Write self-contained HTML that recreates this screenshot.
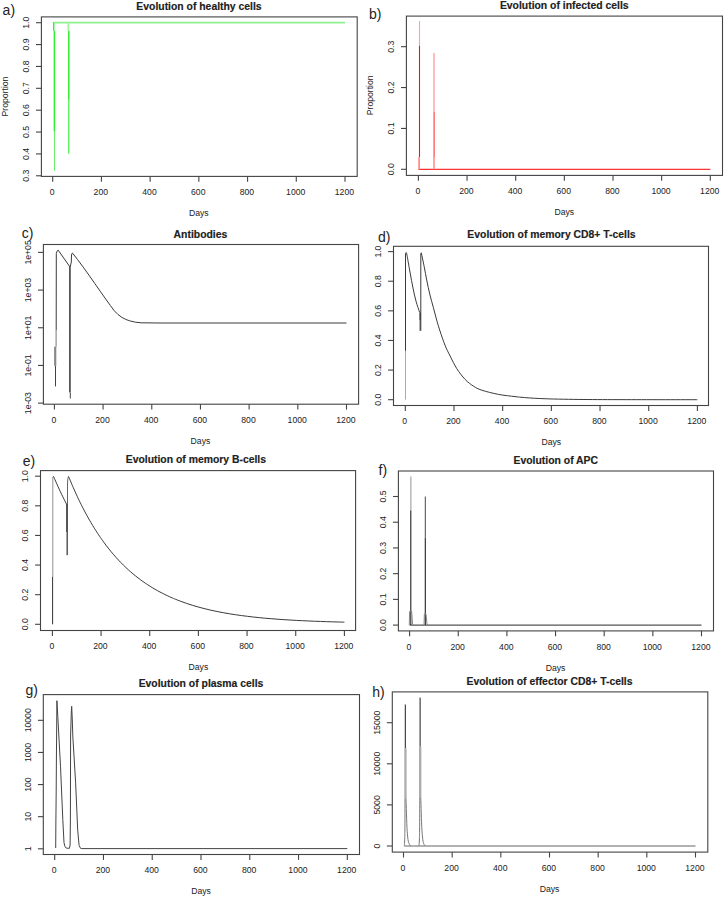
<!DOCTYPE html><html><head><meta charset="utf-8"><style>html,body{margin:0;padding:0;background:#fff;}svg{display:block;}text{font-family:"Liberation Sans", sans-serif;fill:#222;}</style></head><body>
<svg width="724" height="898" viewBox="0 0 724 898">
<rect width="724" height="898" fill="#fff"/>
<rect x="41.4" y="16.9" width="315.8" height="159.5" fill="none" stroke="#444" stroke-width="1.1"/>
<line x1="52.7" y1="176.4" x2="52.7" y2="181.8" stroke="#444" stroke-width="1.1"/>
<text transform="translate(52.1 195) scale(1 1.1)" font-size="8.65" text-anchor="middle">0</text>
<line x1="101.42" y1="176.4" x2="101.42" y2="181.8" stroke="#444" stroke-width="1.1"/>
<text transform="translate(100.82 195) scale(1 1.1)" font-size="8.65" text-anchor="middle">200</text>
<line x1="150.13" y1="176.4" x2="150.13" y2="181.8" stroke="#444" stroke-width="1.1"/>
<text transform="translate(149.53 195) scale(1 1.1)" font-size="8.65" text-anchor="middle">400</text>
<line x1="198.85" y1="176.4" x2="198.85" y2="181.8" stroke="#444" stroke-width="1.1"/>
<text transform="translate(198.25 195) scale(1 1.1)" font-size="8.65" text-anchor="middle">600</text>
<line x1="247.57" y1="176.4" x2="247.57" y2="181.8" stroke="#444" stroke-width="1.1"/>
<text transform="translate(246.97 195) scale(1 1.1)" font-size="8.65" text-anchor="middle">800</text>
<line x1="296.28" y1="176.4" x2="296.28" y2="181.8" stroke="#444" stroke-width="1.1"/>
<text transform="translate(295.68 195) scale(1 1.1)" font-size="8.65" text-anchor="middle">1000</text>
<line x1="345" y1="176.4" x2="345" y2="181.8" stroke="#444" stroke-width="1.1"/>
<text transform="translate(344.4 195) scale(1 1.1)" font-size="8.65" text-anchor="middle">1200</text>
<line x1="36" y1="175.79" x2="41.4" y2="175.79" stroke="#444" stroke-width="1.1"/>
<text transform="translate(29.2 175.79) rotate(-90) scale(1 1.1)" font-size="8.65" text-anchor="middle">0.3</text>
<line x1="36" y1="153.92" x2="41.4" y2="153.92" stroke="#444" stroke-width="1.1"/>
<text transform="translate(29.2 153.92) rotate(-90) scale(1 1.1)" font-size="8.65" text-anchor="middle">0.4</text>
<line x1="36" y1="132.05" x2="41.4" y2="132.05" stroke="#444" stroke-width="1.1"/>
<text transform="translate(29.2 132.05) rotate(-90) scale(1 1.1)" font-size="8.65" text-anchor="middle">0.5</text>
<line x1="36" y1="110.18" x2="41.4" y2="110.18" stroke="#444" stroke-width="1.1"/>
<text transform="translate(29.2 110.18) rotate(-90) scale(1 1.1)" font-size="8.65" text-anchor="middle">0.6</text>
<line x1="36" y1="88.31" x2="41.4" y2="88.31" stroke="#444" stroke-width="1.1"/>
<text transform="translate(29.2 88.31) rotate(-90) scale(1 1.1)" font-size="8.65" text-anchor="middle">0.7</text>
<line x1="36" y1="66.44" x2="41.4" y2="66.44" stroke="#444" stroke-width="1.1"/>
<text transform="translate(29.2 66.44) rotate(-90) scale(1 1.1)" font-size="8.65" text-anchor="middle">0.8</text>
<line x1="36" y1="44.57" x2="41.4" y2="44.57" stroke="#444" stroke-width="1.1"/>
<text transform="translate(29.2 44.57) rotate(-90) scale(1 1.1)" font-size="8.65" text-anchor="middle">0.9</text>
<line x1="36" y1="22.7" x2="41.4" y2="22.7" stroke="#444" stroke-width="1.1"/>
<text transform="translate(29.2 22.7) rotate(-90) scale(1 1.1)" font-size="8.65" text-anchor="middle">1.0</text>
<text transform="translate(198.85 216.1) scale(1 1.1)" font-size="8.65" text-anchor="middle">Days</text>
<text x="199" y="9.9" font-size="10.4" font-weight="bold" text-anchor="middle" fill="#111" stroke="#111" stroke-width="0.15">Evolution of healthy cells</text>
<text x="2.6" y="14.9" font-size="14.0" fill="#111">a)</text>
<text transform="translate(7.8 96.5) rotate(-90) scale(1 1.1)" font-size="8.65" text-anchor="middle">Proportion</text>
<rect x="406.4" y="16.1" width="316.1" height="159.3" fill="none" stroke="#444" stroke-width="1.1"/>
<line x1="418.4" y1="175.4" x2="418.4" y2="180.8" stroke="#444" stroke-width="1.1"/>
<text transform="translate(417.8 194) scale(1 1.1)" font-size="8.65" text-anchor="middle">0</text>
<line x1="467.05" y1="175.4" x2="467.05" y2="180.8" stroke="#444" stroke-width="1.1"/>
<text transform="translate(466.45 194) scale(1 1.1)" font-size="8.65" text-anchor="middle">200</text>
<line x1="515.7" y1="175.4" x2="515.7" y2="180.8" stroke="#444" stroke-width="1.1"/>
<text transform="translate(515.1 194) scale(1 1.1)" font-size="8.65" text-anchor="middle">400</text>
<line x1="564.35" y1="175.4" x2="564.35" y2="180.8" stroke="#444" stroke-width="1.1"/>
<text transform="translate(563.75 194) scale(1 1.1)" font-size="8.65" text-anchor="middle">600</text>
<line x1="613" y1="175.4" x2="613" y2="180.8" stroke="#444" stroke-width="1.1"/>
<text transform="translate(612.4 194) scale(1 1.1)" font-size="8.65" text-anchor="middle">800</text>
<line x1="661.65" y1="175.4" x2="661.65" y2="180.8" stroke="#444" stroke-width="1.1"/>
<text transform="translate(661.05 194) scale(1 1.1)" font-size="8.65" text-anchor="middle">1000</text>
<line x1="710.3" y1="175.4" x2="710.3" y2="180.8" stroke="#444" stroke-width="1.1"/>
<text transform="translate(709.7 194) scale(1 1.1)" font-size="8.65" text-anchor="middle">1200</text>
<line x1="401" y1="169.3" x2="406.4" y2="169.3" stroke="#444" stroke-width="1.1"/>
<text transform="translate(394.2 169.3) rotate(-90) scale(1 1.1)" font-size="8.65" text-anchor="middle">0.0</text>
<line x1="401" y1="128.43" x2="406.4" y2="128.43" stroke="#444" stroke-width="1.1"/>
<text transform="translate(394.2 128.43) rotate(-90) scale(1 1.1)" font-size="8.65" text-anchor="middle">0.1</text>
<line x1="401" y1="87.56" x2="406.4" y2="87.56" stroke="#444" stroke-width="1.1"/>
<text transform="translate(394.2 87.56) rotate(-90) scale(1 1.1)" font-size="8.65" text-anchor="middle">0.2</text>
<line x1="401" y1="46.69" x2="406.4" y2="46.69" stroke="#444" stroke-width="1.1"/>
<text transform="translate(394.2 46.69) rotate(-90) scale(1 1.1)" font-size="8.65" text-anchor="middle">0.3</text>
<text transform="translate(564.35 215.1) scale(1 1.1)" font-size="8.65" text-anchor="middle">Days</text>
<text x="564.25" y="8.8" font-size="10.4" font-weight="bold" text-anchor="middle" fill="#111" stroke="#111" stroke-width="0.15">Evolution of infected cells</text>
<text x="368.9" y="18.75" font-size="14.0" fill="#111">b)</text>
<text transform="translate(373.3 95.3) rotate(-90) scale(1 1.1)" font-size="8.65" text-anchor="middle">Proportion</text>
<rect x="43.4" y="244.5" width="315.2" height="159.7" fill="none" stroke="#444" stroke-width="1.1"/>
<line x1="54.4" y1="404.2" x2="54.4" y2="409.6" stroke="#444" stroke-width="1.1"/>
<text transform="translate(53.8 422.8) scale(1 1.1)" font-size="8.65" text-anchor="middle">0</text>
<line x1="103.08" y1="404.2" x2="103.08" y2="409.6" stroke="#444" stroke-width="1.1"/>
<text transform="translate(102.48 422.8) scale(1 1.1)" font-size="8.65" text-anchor="middle">200</text>
<line x1="151.77" y1="404.2" x2="151.77" y2="409.6" stroke="#444" stroke-width="1.1"/>
<text transform="translate(151.17 422.8) scale(1 1.1)" font-size="8.65" text-anchor="middle">400</text>
<line x1="200.45" y1="404.2" x2="200.45" y2="409.6" stroke="#444" stroke-width="1.1"/>
<text transform="translate(199.85 422.8) scale(1 1.1)" font-size="8.65" text-anchor="middle">600</text>
<line x1="249.13" y1="404.2" x2="249.13" y2="409.6" stroke="#444" stroke-width="1.1"/>
<text transform="translate(248.53 422.8) scale(1 1.1)" font-size="8.65" text-anchor="middle">800</text>
<line x1="297.82" y1="404.2" x2="297.82" y2="409.6" stroke="#444" stroke-width="1.1"/>
<text transform="translate(297.22 422.8) scale(1 1.1)" font-size="8.65" text-anchor="middle">1000</text>
<line x1="346.5" y1="404.2" x2="346.5" y2="409.6" stroke="#444" stroke-width="1.1"/>
<text transform="translate(345.9 422.8) scale(1 1.1)" font-size="8.65" text-anchor="middle">1200</text>
<line x1="38" y1="403.12" x2="43.4" y2="403.12" stroke="#444" stroke-width="1.1"/>
<text transform="translate(31.2 403.12) rotate(-90) scale(1 1.1)" font-size="8.65" text-anchor="middle">1e-03</text>
<line x1="38" y1="365.44" x2="43.4" y2="365.44" stroke="#444" stroke-width="1.1"/>
<text transform="translate(31.2 365.44) rotate(-90) scale(1 1.1)" font-size="8.65" text-anchor="middle">1e-01</text>
<line x1="38" y1="327.76" x2="43.4" y2="327.76" stroke="#444" stroke-width="1.1"/>
<text transform="translate(31.2 327.76) rotate(-90) scale(1 1.1)" font-size="8.65" text-anchor="middle">1e+01</text>
<line x1="38" y1="290.08" x2="43.4" y2="290.08" stroke="#444" stroke-width="1.1"/>
<text transform="translate(31.2 290.08) rotate(-90) scale(1 1.1)" font-size="8.65" text-anchor="middle">1e+03</text>
<line x1="38" y1="252.4" x2="43.4" y2="252.4" stroke="#444" stroke-width="1.1"/>
<text transform="translate(31.2 252.4) rotate(-90) scale(1 1.1)" font-size="8.65" text-anchor="middle">1e+05</text>
<text transform="translate(200.45 443.9) scale(1 1.1)" font-size="8.65" text-anchor="middle">Days</text>
<text x="200.45" y="237.7" font-size="10.4" font-weight="bold" text-anchor="middle" fill="#111" stroke="#111" stroke-width="0.15">Antibodies</text>
<text x="21.7" y="237.9" font-size="14.0" fill="#111">c)</text>
<rect x="393.5" y="246.3" width="315" height="159.2" fill="none" stroke="#444" stroke-width="1.1"/>
<line x1="405.3" y1="405.5" x2="405.3" y2="410.9" stroke="#444" stroke-width="1.1"/>
<text transform="translate(404.7 424.1) scale(1 1.1)" font-size="8.65" text-anchor="middle">0</text>
<line x1="453.98" y1="405.5" x2="453.98" y2="410.9" stroke="#444" stroke-width="1.1"/>
<text transform="translate(453.38 424.1) scale(1 1.1)" font-size="8.65" text-anchor="middle">200</text>
<line x1="502.67" y1="405.5" x2="502.67" y2="410.9" stroke="#444" stroke-width="1.1"/>
<text transform="translate(502.07 424.1) scale(1 1.1)" font-size="8.65" text-anchor="middle">400</text>
<line x1="551.35" y1="405.5" x2="551.35" y2="410.9" stroke="#444" stroke-width="1.1"/>
<text transform="translate(550.75 424.1) scale(1 1.1)" font-size="8.65" text-anchor="middle">600</text>
<line x1="600.03" y1="405.5" x2="600.03" y2="410.9" stroke="#444" stroke-width="1.1"/>
<text transform="translate(599.43 424.1) scale(1 1.1)" font-size="8.65" text-anchor="middle">800</text>
<line x1="648.72" y1="405.5" x2="648.72" y2="410.9" stroke="#444" stroke-width="1.1"/>
<text transform="translate(648.12 424.1) scale(1 1.1)" font-size="8.65" text-anchor="middle">1000</text>
<line x1="697.4" y1="405.5" x2="697.4" y2="410.9" stroke="#444" stroke-width="1.1"/>
<text transform="translate(696.8 424.1) scale(1 1.1)" font-size="8.65" text-anchor="middle">1200</text>
<line x1="388.1" y1="399.7" x2="393.5" y2="399.7" stroke="#444" stroke-width="1.1"/>
<text transform="translate(381.3 399.7) rotate(-90) scale(1 1.1)" font-size="8.65" text-anchor="middle">0.0</text>
<line x1="388.1" y1="370.08" x2="393.5" y2="370.08" stroke="#444" stroke-width="1.1"/>
<text transform="translate(381.3 370.08) rotate(-90) scale(1 1.1)" font-size="8.65" text-anchor="middle">0.2</text>
<line x1="388.1" y1="340.46" x2="393.5" y2="340.46" stroke="#444" stroke-width="1.1"/>
<text transform="translate(381.3 340.46) rotate(-90) scale(1 1.1)" font-size="8.65" text-anchor="middle">0.4</text>
<line x1="388.1" y1="310.84" x2="393.5" y2="310.84" stroke="#444" stroke-width="1.1"/>
<text transform="translate(381.3 310.84) rotate(-90) scale(1 1.1)" font-size="8.65" text-anchor="middle">0.6</text>
<line x1="388.1" y1="281.22" x2="393.5" y2="281.22" stroke="#444" stroke-width="1.1"/>
<text transform="translate(381.3 281.22) rotate(-90) scale(1 1.1)" font-size="8.65" text-anchor="middle">0.8</text>
<line x1="388.1" y1="251.6" x2="393.5" y2="251.6" stroke="#444" stroke-width="1.1"/>
<text transform="translate(381.3 251.6) rotate(-90) scale(1 1.1)" font-size="8.65" text-anchor="middle">1.0</text>
<text transform="translate(551.35 445.2) scale(1 1.1)" font-size="8.65" text-anchor="middle">Days</text>
<text x="551.5" y="238" font-size="10.4" font-weight="bold" text-anchor="middle" fill="#111" stroke="#111" stroke-width="0.15">Evolution of memory CD8+ T-cells</text>
<text x="377.9" y="241.7" font-size="14.0" fill="#111">d)</text>
<rect x="40.5" y="470.6" width="315.1" height="159.9" fill="none" stroke="#444" stroke-width="1.1"/>
<line x1="52.4" y1="630.5" x2="52.4" y2="635.9" stroke="#444" stroke-width="1.1"/>
<text transform="translate(51.8 649.1) scale(1 1.1)" font-size="8.65" text-anchor="middle">0</text>
<line x1="101.07" y1="630.5" x2="101.07" y2="635.9" stroke="#444" stroke-width="1.1"/>
<text transform="translate(100.47 649.1) scale(1 1.1)" font-size="8.65" text-anchor="middle">200</text>
<line x1="149.73" y1="630.5" x2="149.73" y2="635.9" stroke="#444" stroke-width="1.1"/>
<text transform="translate(149.13 649.1) scale(1 1.1)" font-size="8.65" text-anchor="middle">400</text>
<line x1="198.4" y1="630.5" x2="198.4" y2="635.9" stroke="#444" stroke-width="1.1"/>
<text transform="translate(197.8 649.1) scale(1 1.1)" font-size="8.65" text-anchor="middle">600</text>
<line x1="247.07" y1="630.5" x2="247.07" y2="635.9" stroke="#444" stroke-width="1.1"/>
<text transform="translate(246.47 649.1) scale(1 1.1)" font-size="8.65" text-anchor="middle">800</text>
<line x1="295.73" y1="630.5" x2="295.73" y2="635.9" stroke="#444" stroke-width="1.1"/>
<text transform="translate(295.13 649.1) scale(1 1.1)" font-size="8.65" text-anchor="middle">1000</text>
<line x1="344.4" y1="630.5" x2="344.4" y2="635.9" stroke="#444" stroke-width="1.1"/>
<text transform="translate(343.8 649.1) scale(1 1.1)" font-size="8.65" text-anchor="middle">1200</text>
<line x1="35.1" y1="624.3" x2="40.5" y2="624.3" stroke="#444" stroke-width="1.1"/>
<text transform="translate(28.3 624.3) rotate(-90) scale(1 1.1)" font-size="8.65" text-anchor="middle">0.0</text>
<line x1="35.1" y1="594.68" x2="40.5" y2="594.68" stroke="#444" stroke-width="1.1"/>
<text transform="translate(28.3 594.68) rotate(-90) scale(1 1.1)" font-size="8.65" text-anchor="middle">0.2</text>
<line x1="35.1" y1="565.06" x2="40.5" y2="565.06" stroke="#444" stroke-width="1.1"/>
<text transform="translate(28.3 565.06) rotate(-90) scale(1 1.1)" font-size="8.65" text-anchor="middle">0.4</text>
<line x1="35.1" y1="535.44" x2="40.5" y2="535.44" stroke="#444" stroke-width="1.1"/>
<text transform="translate(28.3 535.44) rotate(-90) scale(1 1.1)" font-size="8.65" text-anchor="middle">0.6</text>
<line x1="35.1" y1="505.82" x2="40.5" y2="505.82" stroke="#444" stroke-width="1.1"/>
<text transform="translate(28.3 505.82) rotate(-90) scale(1 1.1)" font-size="8.65" text-anchor="middle">0.8</text>
<line x1="35.1" y1="476.2" x2="40.5" y2="476.2" stroke="#444" stroke-width="1.1"/>
<text transform="translate(28.3 476.2) rotate(-90) scale(1 1.1)" font-size="8.65" text-anchor="middle">1.0</text>
<text transform="translate(198.4 670.2) scale(1 1.1)" font-size="8.65" text-anchor="middle">Days</text>
<text x="195.9" y="463.1" font-size="10.4" font-weight="bold" text-anchor="middle" fill="#111" stroke="#111" stroke-width="0.15">Evolution of memory B-cells</text>
<text x="22.7" y="466" font-size="14.0" fill="#111">e)</text>
<rect x="398.4" y="471" width="315.1" height="159.9" fill="none" stroke="#444" stroke-width="1.1"/>
<line x1="409.6" y1="630.9" x2="409.6" y2="636.3" stroke="#444" stroke-width="1.1"/>
<text transform="translate(409 649.5) scale(1 1.1)" font-size="8.65" text-anchor="middle">0</text>
<line x1="458.25" y1="630.9" x2="458.25" y2="636.3" stroke="#444" stroke-width="1.1"/>
<text transform="translate(457.65 649.5) scale(1 1.1)" font-size="8.65" text-anchor="middle">200</text>
<line x1="506.9" y1="630.9" x2="506.9" y2="636.3" stroke="#444" stroke-width="1.1"/>
<text transform="translate(506.3 649.5) scale(1 1.1)" font-size="8.65" text-anchor="middle">400</text>
<line x1="555.55" y1="630.9" x2="555.55" y2="636.3" stroke="#444" stroke-width="1.1"/>
<text transform="translate(554.95 649.5) scale(1 1.1)" font-size="8.65" text-anchor="middle">600</text>
<line x1="604.2" y1="630.9" x2="604.2" y2="636.3" stroke="#444" stroke-width="1.1"/>
<text transform="translate(603.6 649.5) scale(1 1.1)" font-size="8.65" text-anchor="middle">800</text>
<line x1="652.85" y1="630.9" x2="652.85" y2="636.3" stroke="#444" stroke-width="1.1"/>
<text transform="translate(652.25 649.5) scale(1 1.1)" font-size="8.65" text-anchor="middle">1000</text>
<line x1="701.5" y1="630.9" x2="701.5" y2="636.3" stroke="#444" stroke-width="1.1"/>
<text transform="translate(700.9 649.5) scale(1 1.1)" font-size="8.65" text-anchor="middle">1200</text>
<line x1="393" y1="625.1" x2="398.4" y2="625.1" stroke="#444" stroke-width="1.1"/>
<text transform="translate(386.2 625.1) rotate(-90) scale(1 1.1)" font-size="8.65" text-anchor="middle">0.0</text>
<line x1="393" y1="599.38" x2="398.4" y2="599.38" stroke="#444" stroke-width="1.1"/>
<text transform="translate(386.2 599.38) rotate(-90) scale(1 1.1)" font-size="8.65" text-anchor="middle">0.1</text>
<line x1="393" y1="573.66" x2="398.4" y2="573.66" stroke="#444" stroke-width="1.1"/>
<text transform="translate(386.2 573.66) rotate(-90) scale(1 1.1)" font-size="8.65" text-anchor="middle">0.2</text>
<line x1="393" y1="547.94" x2="398.4" y2="547.94" stroke="#444" stroke-width="1.1"/>
<text transform="translate(386.2 547.94) rotate(-90) scale(1 1.1)" font-size="8.65" text-anchor="middle">0.3</text>
<line x1="393" y1="522.22" x2="398.4" y2="522.22" stroke="#444" stroke-width="1.1"/>
<text transform="translate(386.2 522.22) rotate(-90) scale(1 1.1)" font-size="8.65" text-anchor="middle">0.4</text>
<line x1="393" y1="496.5" x2="398.4" y2="496.5" stroke="#444" stroke-width="1.1"/>
<text transform="translate(386.2 496.5) rotate(-90) scale(1 1.1)" font-size="8.65" text-anchor="middle">0.5</text>
<text transform="translate(555.55 670.6) scale(1 1.1)" font-size="8.65" text-anchor="middle">Days</text>
<text x="555.8" y="463.9" font-size="10.4" font-weight="bold" text-anchor="middle" fill="#111" stroke="#111" stroke-width="0.15">Evolution of APC</text>
<text x="378.5" y="474.6" font-size="14.0" fill="#111">f)</text>
<rect x="43.3" y="694.6" width="316.2" height="159.9" fill="none" stroke="#444" stroke-width="1.1"/>
<line x1="54.7" y1="854.5" x2="54.7" y2="859.9" stroke="#444" stroke-width="1.1"/>
<text transform="translate(54.1 873.1) scale(1 1.1)" font-size="8.65" text-anchor="middle">0</text>
<line x1="103.47" y1="854.5" x2="103.47" y2="859.9" stroke="#444" stroke-width="1.1"/>
<text transform="translate(102.87 873.1) scale(1 1.1)" font-size="8.65" text-anchor="middle">200</text>
<line x1="152.23" y1="854.5" x2="152.23" y2="859.9" stroke="#444" stroke-width="1.1"/>
<text transform="translate(151.63 873.1) scale(1 1.1)" font-size="8.65" text-anchor="middle">400</text>
<line x1="201" y1="854.5" x2="201" y2="859.9" stroke="#444" stroke-width="1.1"/>
<text transform="translate(200.4 873.1) scale(1 1.1)" font-size="8.65" text-anchor="middle">600</text>
<line x1="249.77" y1="854.5" x2="249.77" y2="859.9" stroke="#444" stroke-width="1.1"/>
<text transform="translate(249.17 873.1) scale(1 1.1)" font-size="8.65" text-anchor="middle">800</text>
<line x1="298.53" y1="854.5" x2="298.53" y2="859.9" stroke="#444" stroke-width="1.1"/>
<text transform="translate(297.93 873.1) scale(1 1.1)" font-size="8.65" text-anchor="middle">1000</text>
<line x1="347.3" y1="854.5" x2="347.3" y2="859.9" stroke="#444" stroke-width="1.1"/>
<text transform="translate(346.7 873.1) scale(1 1.1)" font-size="8.65" text-anchor="middle">1200</text>
<line x1="37.9" y1="848.8" x2="43.3" y2="848.8" stroke="#444" stroke-width="1.1"/>
<text transform="translate(31.1 848.8) rotate(-90) scale(1 1.1)" font-size="8.65" text-anchor="middle">1</text>
<line x1="37.9" y1="816.68" x2="43.3" y2="816.68" stroke="#444" stroke-width="1.1"/>
<text transform="translate(31.1 816.68) rotate(-90) scale(1 1.1)" font-size="8.65" text-anchor="middle">10</text>
<line x1="37.9" y1="784.56" x2="43.3" y2="784.56" stroke="#444" stroke-width="1.1"/>
<text transform="translate(31.1 784.56) rotate(-90) scale(1 1.1)" font-size="8.65" text-anchor="middle">100</text>
<line x1="37.9" y1="752.44" x2="43.3" y2="752.44" stroke="#444" stroke-width="1.1"/>
<text transform="translate(31.1 752.44) rotate(-90) scale(1 1.1)" font-size="8.65" text-anchor="middle">1000</text>
<line x1="37.9" y1="720.32" x2="43.3" y2="720.32" stroke="#444" stroke-width="1.1"/>
<text transform="translate(31.1 720.32) rotate(-90) scale(1 1.1)" font-size="8.65" text-anchor="middle">10000</text>
<text transform="translate(201 894.2) scale(1 1.1)" font-size="8.65" text-anchor="middle">Days</text>
<text x="201" y="687.4" font-size="10.4" font-weight="bold" text-anchor="middle" fill="#111" stroke="#111" stroke-width="0.15">Evolution of plasma cells</text>
<text x="25.5" y="695" font-size="14.0" fill="#111">g)</text>
<rect x="392.3" y="691.9" width="315.5" height="160.2" fill="none" stroke="#444" stroke-width="1.1"/>
<line x1="403.5" y1="852.1" x2="403.5" y2="857.5" stroke="#444" stroke-width="1.1"/>
<text transform="translate(402.9 870.7) scale(1 1.1)" font-size="8.65" text-anchor="middle">0</text>
<line x1="452.17" y1="852.1" x2="452.17" y2="857.5" stroke="#444" stroke-width="1.1"/>
<text transform="translate(451.57 870.7) scale(1 1.1)" font-size="8.65" text-anchor="middle">200</text>
<line x1="500.83" y1="852.1" x2="500.83" y2="857.5" stroke="#444" stroke-width="1.1"/>
<text transform="translate(500.23 870.7) scale(1 1.1)" font-size="8.65" text-anchor="middle">400</text>
<line x1="549.5" y1="852.1" x2="549.5" y2="857.5" stroke="#444" stroke-width="1.1"/>
<text transform="translate(548.9 870.7) scale(1 1.1)" font-size="8.65" text-anchor="middle">600</text>
<line x1="598.17" y1="852.1" x2="598.17" y2="857.5" stroke="#444" stroke-width="1.1"/>
<text transform="translate(597.57 870.7) scale(1 1.1)" font-size="8.65" text-anchor="middle">800</text>
<line x1="646.83" y1="852.1" x2="646.83" y2="857.5" stroke="#444" stroke-width="1.1"/>
<text transform="translate(646.23 870.7) scale(1 1.1)" font-size="8.65" text-anchor="middle">1000</text>
<line x1="695.5" y1="852.1" x2="695.5" y2="857.5" stroke="#444" stroke-width="1.1"/>
<text transform="translate(694.9 870.7) scale(1 1.1)" font-size="8.65" text-anchor="middle">1200</text>
<line x1="386.9" y1="846" x2="392.3" y2="846" stroke="#444" stroke-width="1.1"/>
<text transform="translate(380.1 846) rotate(-90) scale(1 1.1)" font-size="8.65" text-anchor="middle">0</text>
<line x1="386.9" y1="804.9" x2="392.3" y2="804.9" stroke="#444" stroke-width="1.1"/>
<text transform="translate(380.1 804.9) rotate(-90) scale(1 1.1)" font-size="8.65" text-anchor="middle">5000</text>
<line x1="386.9" y1="763.8" x2="392.3" y2="763.8" stroke="#444" stroke-width="1.1"/>
<text transform="translate(380.1 763.8) rotate(-90) scale(1 1.1)" font-size="8.65" text-anchor="middle">10000</text>
<line x1="386.9" y1="722.7" x2="392.3" y2="722.7" stroke="#444" stroke-width="1.1"/>
<text transform="translate(380.1 722.7) rotate(-90) scale(1 1.1)" font-size="8.65" text-anchor="middle">15000</text>
<text transform="translate(549.5 891.8) scale(1 1.1)" font-size="8.65" text-anchor="middle">Days</text>
<text x="549.5" y="684.9" font-size="10.4" font-weight="bold" text-anchor="middle" fill="#111" stroke="#111" stroke-width="0.15">Evolution of effector CD8+ T-cells</text>
<text x="372.3" y="696.8" font-size="14.0" fill="#111">h)</text>
<path d="M52.7,22.7 L345,22.7" fill="none" stroke="#8ef08e" stroke-width="1.8" stroke-linejoin="round" />
<path d="M53.7,22.7 L53.7,30.7" fill="none" stroke="#30ee30" stroke-width="1.4" stroke-linejoin="round" />
<path d="M54.4,30.7 L54.4,131.6" fill="none" stroke="#30ee30" stroke-width="1.5" stroke-linejoin="round" />
<path d="M54.5,131.6 L54.5,170.8" fill="none" stroke="#70ee70" stroke-width="1.1" stroke-linejoin="round" />
<path d="M68.3,22.7 L68.3,30.7" fill="none" stroke="#a0f5a0" stroke-width="1.8" stroke-linejoin="round" />
<path d="M68.8,30.7 L68.8,99.8" fill="none" stroke="#30ee30" stroke-width="1.5" stroke-linejoin="round" />
<path d="M68.8,99.8 L68.8,153.7" fill="none" stroke="#30ee30" stroke-width="1.1" stroke-linejoin="round" />
<path d="M418.4,169.3 L710.3,169.3" fill="none" stroke="#ff3535" stroke-width="1.2" stroke-linejoin="round" />
<path d="M419.5,21 L419.5,45.7" fill="none" stroke="#ffa0a0" stroke-width="1.1" stroke-linejoin="round" />
<path d="M419.5,45.7 L419.5,157" fill="none" stroke="#ff1010" stroke-width="1.1" stroke-linejoin="round" />
<path d="M419.1,157 L419.1,169.3" fill="none" stroke="#ff9090" stroke-width="1.8" stroke-linejoin="round" />
<path d="M434,53 L434,112" fill="none" stroke="#ffa0a0" stroke-width="1.4" stroke-linejoin="round" />
<path d="M434.1,112 L434.1,157" fill="none" stroke="#ff4545" stroke-width="1.2" stroke-linejoin="round" />
<path d="M434,157 L434,169.3" fill="none" stroke="#ff9090" stroke-width="1.6" stroke-linejoin="round" />
<path d="M55.2,346.6 L55.2,365.8" fill="none" stroke="#888" stroke-width="2.2" stroke-linejoin="round" />
<path d="M56.1,330 L56.1,346.6" fill="none" stroke="#777" stroke-width="1.0" stroke-linejoin="round" />
<path d="M55.5,365.8 L55.5,386.4" fill="none" stroke="#444" stroke-width="1.0" stroke-linejoin="round" />
<path d="M56.2,330 L56.3,253.5 L57,251.2 L58.2,250.2 L63.7,258 L69.3,266" fill="none" stroke="#3a3a3a" stroke-width="1.0" stroke-linejoin="round" />
<path d="M69.9,266 L69.9,392.6" fill="none" stroke="#555" stroke-width="1.8" stroke-linejoin="round" />
<path d="M70.3,392.6 L70.3,398.5" fill="none" stroke="#444" stroke-width="1.0" stroke-linejoin="round" />
<path d="M70.3,266.5 L71.3,262 L71.5,255 L72,253.4 L72.6,253.2 L77.5,259.5 L83.2,267.1 L89,275.2 L94.8,283.5 L100.6,291.8 L106.4,300 L110.3,305.4 L114.1,310.6 L118,314.5 L121.9,317.4 L125.7,319.4 L129.6,320.8 L135.4,322.2 L141.2,322.8 L160,323 L346.5,323" fill="none" stroke="#3a3a3a" stroke-width="1.0" stroke-linejoin="round" />
<path d="M405.5,399.7 L405.5,350.83" fill="none" stroke="#aaa" stroke-width="1.0" stroke-linejoin="round" />
<path d="M405.5,350.83 L405.5,253.5 L406.2,252.5" fill="none" stroke="#3a3a3a" stroke-width="1.0" stroke-linejoin="round" />
<path d="M406.2,252.5 C406.33,252.95 406.37,251.93 407,255.2 C407.63,258.47 409,266.62 410,272.1 C411,277.58 412,283.25 413,288.1 C414,292.95 414.9,297.18 416,301.2 C417.1,305.22 419,310.37 419.6,312.2" fill="none" stroke="#3a3a3a" stroke-width="1.0" stroke-linejoin="round"/>
<path d="M420.1,312.2 L420.1,320.2" fill="none" stroke="#222" stroke-width="1.3" stroke-linejoin="round" />
<path d="M420.1,320.2 L420.1,330.8" fill="none" stroke="#444" stroke-width="1.0" stroke-linejoin="round" />
<path d="M420.8,330.8 L420.8,254 L421.3,252.8" fill="none" stroke="#3a3a3a" stroke-width="1.0" stroke-linejoin="round" />
<path d="M421.3,252.8 C421.78,255.12 423.3,262.17 424.2,266.7 C425.1,271.23 425.73,275.27 426.7,280 C427.67,284.73 428.88,290.5 430,295.1 C431.12,299.7 432.28,303.43 433.4,307.6 C434.52,311.77 435.6,316.2 436.7,320.1 C437.8,324 438.62,326.82 440,331 C441.38,335.18 443.32,341.03 445,345.2 C446.68,349.37 448.15,352.12 450.1,356 C452.05,359.88 454.2,364.6 456.7,368.5 C459.2,372.4 462.32,376.47 465.1,379.4 C467.88,382.33 470.62,384.3 473.4,386.1 C476.18,387.9 477.62,388.82 481.8,390.2 C485.98,391.58 492.97,393.33 498.5,394.4 C504.03,395.47 511.47,396.15 515,396.6 C518.53,397.05 518.11,396.96 519.71,397.12 C521.3,397.28 522.95,397.43 524.57,397.57 C526.2,397.7 527.82,397.83 529.44,397.94 C531.07,398.05 532.69,398.15 534.31,398.24 C535.93,398.34 537.56,398.42 539.18,398.49 C540.8,398.57 542.42,398.64 544.05,398.7 C545.67,398.77 547.29,398.82 548.92,398.88 C550.54,398.93 552.16,398.98 553.78,399.02 C555.41,399.06 557.03,399.1 558.65,399.14 C560.28,399.17 561.9,399.2 563.52,399.23 C565.14,399.26 566.77,399.29 568.39,399.31 C570.01,399.34 571.63,399.36 573.26,399.38 C574.88,399.4 576.5,399.42 578.13,399.44 C579.75,399.45 581.37,399.47 582.99,399.48 C584.62,399.5 586.24,399.51 587.86,399.52 C589.49,399.53 591.11,399.54 592.73,399.55 C594.35,399.56 595.98,399.57 597.6,399.58 C599.22,399.58 600.84,399.59 602.47,399.6 C604.09,399.6 605.71,399.61 607.34,399.62 C608.96,399.62 610.58,399.63 612.2,399.63 C613.83,399.63 615.45,399.64 617.07,399.64 C618.7,399.65 620.32,399.65 621.94,399.65 C623.56,399.66 625.19,399.66 626.81,399.66 C628.43,399.66 630.05,399.67 631.68,399.67 C633.3,399.67 634.92,399.67 636.55,399.67 C638.17,399.67 639.79,399.68 641.41,399.68 C643.04,399.68 644.66,399.68 646.28,399.68 C647.91,399.68 649.53,399.68 651.15,399.68 C652.77,399.69 654.4,399.69 656.02,399.69 C657.64,399.69 659.26,399.69 660.89,399.69 C662.51,399.69 664.13,399.69 665.76,399.69 C667.38,399.69 669,399.69 670.62,399.69 C672.25,399.69 673.87,399.69 675.49,399.69 C677.12,399.69 678.74,399.69 680.36,399.7 C681.98,399.7 683.61,399.7 685.23,399.7 C686.85,399.7 688.47,399.7 690.1,399.7 C691.72,399.7 693.75,399.7 694.97,399.7 C696.18,399.7 696.99,399.7 697.4,399.7" fill="none" stroke="#3a3a3a" stroke-width="1.0" stroke-linejoin="round"/>
<path d="M52.6,624.3 L52.6,576.91" fill="none" stroke="#333" stroke-width="1.0" stroke-linejoin="round" />
<path d="M52.8,576.91 L52.8,477.5" fill="none" stroke="#999" stroke-width="1.1" stroke-linejoin="round" />
<path d="M52.8,477.5 L53.5,476.5" fill="none" stroke="#3a3a3a" stroke-width="1.0" stroke-linejoin="round" />
<path d="M53.5,476.5 C53.64,476.78 54,477.45 54.35,478.21 C54.69,478.96 55.16,480.1 55.56,481.03 C55.97,481.96 56.37,482.88 56.78,483.8 C57.19,484.71 57.59,485.61 58,486.51 C58.4,487.4 58.81,488.29 59.21,489.17 C59.62,490.05 60.02,490.92 60.43,491.78 C60.84,492.64 61.24,493.49 61.65,494.34 C62.05,495.18 62.46,496.02 62.86,496.85 C63.27,497.68 63.67,498.5 64.08,499.31 C64.49,500.12 64.89,500.93 65.3,501.72 C65.7,502.52 66.3,503.66 66.51,504.09 C66.73,504.52 66.59,504.29 66.6,504.32" fill="none" stroke="#3a3a3a" stroke-width="1.0" stroke-linejoin="round"/>
<path d="M67,504.1 L67,532.1" fill="none" stroke="#111" stroke-width="1.4" stroke-linejoin="round" />
<path d="M67,532.1 L67,555.2" fill="none" stroke="#333" stroke-width="0.9" stroke-linejoin="round" />
<path d="M67.5,555 L67.5,484 L67.8,479 L68.5,476.5" fill="none" stroke="#555" stroke-width="0.9" stroke-linejoin="round" />
<path d="M68.5,476.5 C68.66,476.83 69.12,477.76 69.43,478.48 C69.75,479.2 70.08,480.06 70.41,480.84 C70.73,481.62 71.06,482.39 71.38,483.16 C71.7,483.93 72.03,484.69 72.35,485.44 C72.68,486.2 73,486.95 73.33,487.69 C73.65,488.43 73.98,489.17 74.3,489.9 C74.62,490.63 74.95,491.36 75.27,492.07 C75.6,492.79 75.92,493.51 76.25,494.21 C76.57,494.92 76.9,495.62 77.22,496.32 C77.54,497.01 77.87,497.7 78.19,498.39 C78.52,499.07 78.84,499.75 79.17,500.42 C79.49,501.1 79.82,501.76 80.14,502.43 C80.46,503.09 80.79,503.74 81.11,504.4 C81.44,505.05 81.76,505.69 82.09,506.33 C82.41,506.98 82.74,507.61 83.06,508.24 C83.38,508.87 83.71,509.5 84.03,510.12 C84.36,510.74 84.68,511.35 85.01,511.96 C85.33,512.57 85.66,513.18 85.98,513.78 C86.3,514.38 86.63,514.97 86.95,515.56 C87.28,516.15 87.6,516.74 87.93,517.32 C88.25,517.9 88.58,518.48 88.9,519.05 C89.22,519.62 89.55,520.19 89.87,520.75 C90.2,521.31 90.52,521.87 90.85,522.42 C91.17,522.97 91.5,523.52 91.82,524.07 C92.14,524.61 92.47,525.15 92.79,525.68 C93.12,526.22 93.44,526.75 93.77,527.28 C94.09,527.8 94.42,528.32 94.74,528.84 C95.06,529.36 95.39,529.87 95.71,530.38 C96.04,530.89 96.36,531.4 96.69,531.9 C97.01,532.4 97.34,532.9 97.66,533.39 C97.98,533.88 98.31,534.37 98.63,534.86 C98.96,535.34 99.28,535.82 99.61,536.3 C99.93,536.78 100.26,537.25 100.58,537.72 C100.9,538.19 100.99,538.32 101.55,539.11 C102.12,539.91 103.18,541.4 103.99,542.51 C104.8,543.62 105.61,544.7 106.42,545.76 C107.23,546.83 108.04,547.87 108.85,548.89 C109.66,549.91 110.48,550.91 111.29,551.89 C112.1,552.87 112.91,553.83 113.72,554.77 C114.53,555.71 115.34,556.63 116.15,557.53 C116.96,558.43 117.78,559.32 118.59,560.18 C119.4,561.05 120.21,561.9 121.02,562.73 C121.83,563.56 122.64,564.37 123.45,565.17 C124.26,565.97 125.08,566.75 125.89,567.52 C126.7,568.28 127.51,569.03 128.32,569.77 C129.13,570.5 129.94,571.22 130.75,571.93 C131.56,572.64 132.38,573.33 133.19,574 C134,574.68 134.81,575.34 135.62,575.99 C136.43,576.64 137.24,577.28 138.05,577.91 C138.86,578.53 139.68,579.14 140.49,579.74 C141.3,580.34 142.11,580.92 142.92,581.5 C143.73,582.07 144.54,582.64 145.35,583.19 C146.16,583.74 146.98,584.28 147.79,584.81 C148.6,585.34 149.41,585.86 150.22,586.37 C151.03,586.88 151.84,587.37 152.65,587.86 C153.46,588.35 154.28,588.83 155.09,589.3 C155.9,589.76 156.71,590.22 157.52,590.67 C158.33,591.12 159.14,591.56 159.95,591.99 C160.76,592.42 161.58,592.85 162.39,593.26 C163.2,593.68 164.01,594.08 164.82,594.48 C165.63,594.88 166.44,595.26 167.25,595.65 C168.06,596.03 168.88,596.4 169.69,596.77 C170.5,597.13 171.31,597.49 172.12,597.84 C172.93,598.2 173.13,598.3 174.55,598.88 C175.97,599.45 178.61,600.52 180.64,601.28 C182.66,602.04 184.69,602.76 186.72,603.45 C188.75,604.14 190.78,604.79 192.8,605.41 C194.83,606.03 196.86,606.62 198.89,607.18 C200.91,607.74 202.94,608.27 204.97,608.77 C207,609.28 209.03,609.76 211.05,610.22 C213.08,610.67 215.11,611.1 217.14,611.52 C219.16,611.93 221.19,612.32 223.22,612.69 C225.25,613.06 227.28,613.41 229.3,613.75 C231.33,614.08 233.36,614.4 235.39,614.7 C237.41,615.01 239.44,615.29 241.47,615.57 C243.5,615.84 245.53,616.1 247.55,616.34 C249.58,616.59 251.61,616.82 253.64,617.05 C255.66,617.27 257.69,617.48 259.72,617.68 C261.75,617.88 263.78,618.07 265.8,618.25 C267.83,618.44 269.86,618.61 271.89,618.77 C273.91,618.94 275.94,619.09 277.97,619.24 C280,619.39 282.03,619.53 284.05,619.66 C286.08,619.79 288.11,619.92 290.14,620.04 C292.16,620.16 294.19,620.27 296.22,620.38 C298.25,620.49 300.28,620.59 302.3,620.69 C304.33,620.79 306.36,620.88 308.39,620.97 C310.41,621.06 312.44,621.14 314.47,621.22 C316.5,621.3 318.53,621.38 320.55,621.45 C322.58,621.52 324.61,621.59 326.64,621.66 C328.66,621.72 330.69,621.78 332.72,621.84 C334.75,621.9 336.86,621.96 338.8,622.01 C340.75,622.06 343.47,622.13 344.4,622.15" fill="none" stroke="#3a3a3a" stroke-width="1.0" stroke-linejoin="round"/>
<path d="M409.6,625.1 L701.5,625.1" fill="none" stroke="#555" stroke-width="1.2" stroke-linejoin="round" />
<path d="M410.9,476.44 L410.9,510.6" fill="none" stroke="#888" stroke-width="0.9" stroke-linejoin="round" />
<path d="M410.8,510.6 L410.8,625.1" fill="none" stroke="#222" stroke-width="1.1" stroke-linejoin="round" />
<path d="M409.3,625.1 L409.6,611.4 L410.2,611.4 L411.6,611 L412.6,624.1 L413.6,625.1" fill="none" stroke="#888" stroke-width="1.0" stroke-linejoin="round" />
<path d="M425.3,496.5 L425.3,537.4" fill="none" stroke="#333" stroke-width="0.9" stroke-linejoin="round" />
<path d="M425.3,537.4 L425.3,625.1" fill="none" stroke="#222" stroke-width="1.1" stroke-linejoin="round" />
<path d="M424,625.1 L424.4,613.9 L426,613.9 L427,624.1 L428,625.1" fill="none" stroke="#888" stroke-width="1.0" stroke-linejoin="round" />
<path d="M55.7,848 L55.9,820 L56.2,791 L56.4,760 L56.9,700.7 L57.8,716.4 L60.5,766.2 L62.8,819.6 L64,842.7 L65,846.5 L65.8,847.8 L67.5,848.3 L69.4,848.3 L70.1,845 L70.4,820 L70.6,736 L71.3,712 L71.7,706.3 L72.3,720 L72.8,736 L73.4,746 L75.6,782.2 L77.7,830.2 L79.1,845.4 L80.5,848.3 L81.8,848.6 L347.3,848.6" fill="none" stroke="#444" stroke-width="1.0" stroke-linejoin="round" />
<path d="M404.3,846 L695.5,846" fill="none" stroke="#666" stroke-width="1.1" stroke-linejoin="round" />
<path d="M405.3,704.5 L405.3,748.4" fill="none" stroke="#000" stroke-width="0.9" stroke-linejoin="round" />
<path d="M405,748.4 L405,798.4" fill="none" stroke="#888" stroke-width="1.0" stroke-linejoin="round" />
<path d="M406,748.4 L406,798.4" fill="none" stroke="#999" stroke-width="1.0" stroke-linejoin="round" />
<path d="M405,798.4 C404.98,803.67 404.97,822.73 404.9,830 C404.83,837.27 404.7,839.35 404.6,842 C404.5,844.65 404.35,845.25 404.3,845.9" fill="none" stroke="#777" stroke-width="1.0" stroke-linejoin="round"/>
<path d="M406,798.4 C406.08,801.17 406.35,810.4 406.5,815 C406.65,819.6 406.72,822.5 406.9,826 C407.08,829.5 407.32,833.25 407.6,836 C407.88,838.75 408.12,840.85 408.6,842.5 C409.08,844.15 410.18,845.33 410.5,845.9" fill="none" stroke="#777" stroke-width="1.0" stroke-linejoin="round"/>
<path d="M420.1,697.6 L420.1,746.7" fill="none" stroke="#000" stroke-width="0.9" stroke-linejoin="round" />
<path d="M419.8,746.7 L419.8,798" fill="none" stroke="#888" stroke-width="1.0" stroke-linejoin="round" />
<path d="M420.8,746.7 L420.8,798" fill="none" stroke="#999" stroke-width="1.0" stroke-linejoin="round" />
<path d="M419.8,798 C419.77,803.33 419.68,822.67 419.6,830 C419.52,837.33 419.42,839.35 419.3,842 C419.18,844.65 418.97,845.25 418.9,845.9" fill="none" stroke="#777" stroke-width="1.0" stroke-linejoin="round"/>
<path d="M420.8,798 C420.88,800.83 421.13,810.03 421.3,815 C421.47,819.97 421.58,823.97 421.8,827.8 C422.02,831.63 422.3,835.38 422.6,838 C422.9,840.62 423.15,842.18 423.6,843.5 C424.05,844.82 425.02,845.5 425.3,845.9" fill="none" stroke="#777" stroke-width="1.0" stroke-linejoin="round"/>
</svg></body></html>
